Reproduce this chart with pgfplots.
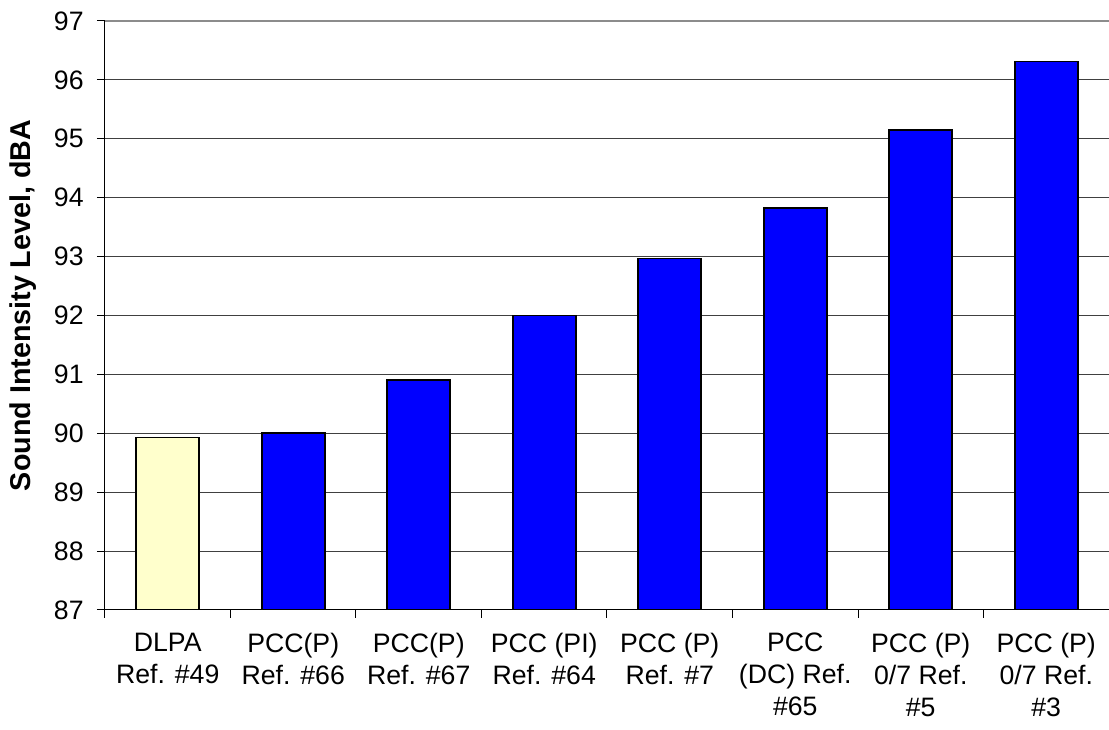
\documentclass[border=0pt]{standalone}
\usepackage{pgfplots}
\pgfplotsset{compat=1.18}
\usepackage{fontspec}
\setmainfont{Liberation Sans}
\definecolor{barblue}{RGB}{0,0,255}
\definecolor{baryellow}{RGB}{255,255,204}
\begin{document}
\begin{tikzpicture}
\useasboundingbox (-78.75pt,-90pt) rectangle (753pt,457.5pt);
\begin{axis}[
  at={(0,0)}, anchor=south west,
  scale only axis, width=753pt, height=441.75pt,
  xmin=0, xmax=8, ymin=87, ymax=97,
  ytick={87,...,97},
  xtick={0,...,8},
  x tick label as interval,
  xticklabels={{DLPA\\Ref. \#49},{PCC(P)\\Ref. \#66},{PCC(P)\\Ref. \#67},{PCC (PI)\\Ref. \#64},{PCC (P)\\Ref. \#7},{PCC\\(DC) Ref.\\\#65},{PCC (P)\\0/7 Ref.\\\#5},{PCC (P)\\0/7 Ref.\\\#3}},
  axis x line*=bottom, axis y line*=left,
  axis line style={-, black, line width=0.75pt},
  tick align=outside, major tick length=6pt,
  tick style={black, line width=0.75pt},
  ymajorgrids, major grid style={black!75, line width=0.75pt},
  ticklabel style={font=\fontsize{20}{24}\selectfont},
  xticklabel style={align=center, yshift=-8pt},
  yticklabel style={xshift=-6.5pt},
  /pgf/number format/assume math mode=true,
  ylabel={\bfseries Sound Intensity Level, dBA},
  ylabel style={font=\fontsize{21.5}{25}\selectfont, at={(axis description cs:-0.082,0.517)}, anchor=center, rotate=0},
  clip=true,
]
\addplot[ybar, bar shift=0pt, bar width=47.25pt, fill=baryellow, draw=black, line width=1.2pt] coordinates {(0.5,89.93)};
\addplot[ybar, bar shift=0pt, bar width=47.25pt, fill=barblue, draw=black, line width=1.2pt] coordinates {(1.5,90.0) (2.5,90.9) (3.5,92.0) (4.5,92.97) (5.5,93.83) (6.5,95.15) (7.5,96.31)};
\draw[black!45, line width=1.5pt] (rel axis cs:0,1) -- (rel axis cs:1,1);
\end{axis}
\end{tikzpicture}
\end{document}
